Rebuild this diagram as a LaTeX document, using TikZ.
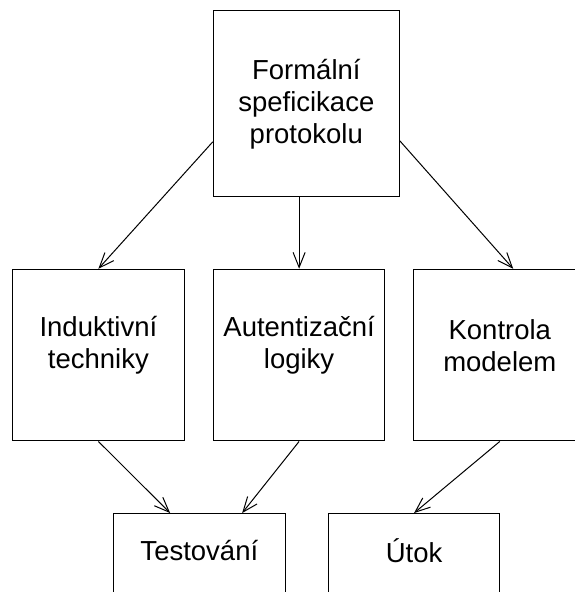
\documentclass[tikz,border=0pt]{standalone}
\usepackage{fontspec}
\setmainfont{Liberation Sans}
\usetikzlibrary{arrows.meta, positioning, calc}

\newcommand{\boxfont}{\fontsize{27.5}{32}\selectfont}

\tikzset{
  box/.style={draw, line width=1pt, inner sep=0pt, minimum width=171.7pt, minimum height=171.7pt},
  bigbox/.style={box, minimum width=186pt, minimum height=185.7pt, align=center, font=\boxfont},
  boxtext/.style={align=center, font=\boxfont},
  arr/.style={-{Straight Barb[length=15pt, width=12pt]}, line width=1pt},
}

\begin{document}
\begin{tikzpicture}
    \useasboundingbox (0,0) rectangle (575pt,-592pt);
    \clip (0,0) rectangle (575pt,-592pt);

    % top
    \node[bigbox] (spec) at (306.3pt,-103.8pt) {Formální\\speficikace\\protokolu};

    % middle row
    \node[box, label={[boxtext, yshift=9.7pt]center:Autentizační\\logiky}] (autent) [below=71.6pt of spec.south, xshift=-7.2pt] {};
    \node[box, label={[boxtext, yshift=9.7pt]center:Induktivní\\techniky}] (induk) [left=28pt of autent] {};
    \node[box, label={[boxtext, yshift=9.7pt]center:Kontrola\\modelem}] (kontrola) [right=28pt of autent] {};

    % bottom row
    \coordinate (mid) at ($(induk.south)!0.5!(autent.south)$);
    \node[box, label={[boxtext, yshift=48.5pt]center:Testování}] (test) [below=71.6pt of mid, xshift=0.6pt] {};
    \node[box, label={[boxtext, yshift=48.5pt]center:Útok}] (utok) [right=42pt of test] {};

    \draw[arr] ([yshift=-38pt]spec.west) -- (induk.north);
    \draw[arr] (spec.south -| autent.north) -- (autent.north);
    \draw[arr] ([yshift=-37pt]spec.east) -- ([xshift=13.4pt]kontrola.north);

    \draw[arr] (induk.south) -- ([xshift=-29.2pt]test.north);
    \draw[arr] (autent.south) -- ([xshift=42.8pt]test.north);
    \draw[arr] (kontrola.south) -- (utok.north);
\end{tikzpicture}
\end{document}
